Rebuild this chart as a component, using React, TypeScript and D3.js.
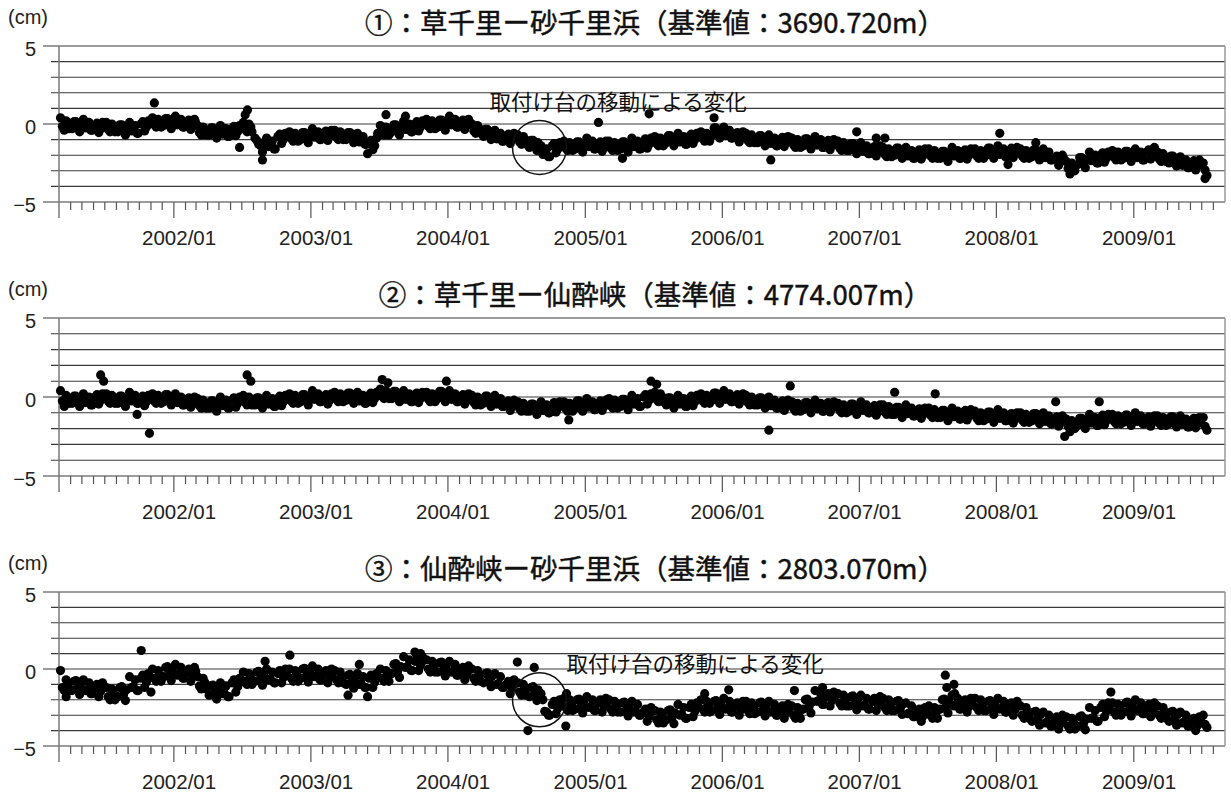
import React from 'react'
import * as d3 from 'd3'

// two interleaved sample sets per panel, 3 readings a month each, starting 2001/03
const daysA = [5, 15, 25]
const daysB = [10, 20, 28]

const titles = [
    '①：草千里ー砂千里浜（基準値：3690.720m）',
    '②：草千里ー仙酔峡（基準値：4774.007m）',
    '③：仙酔峡ー砂千里浜（基準値：2803.070m）'
]

const yearLabels = ['2002/01', '2003/01', '2004/01', '2005/01', '2006/01', '2007/01', '2008/01', '2009/01']
const yTickLabels = [5, 0, -5]
const noteText = '取付け台の移動による変化'

// ① 草千里－砂千里浜 (cm)
const line1a = [
    // 2001 Mar-Dec
    0.4, -0.4, 0.1, -0.3, 0.15, -0.5, 0.3, -0.2, -0.4, -0.1, -0.55, 0.1, 0.1, -0.5, -0.2,
    -0.5, -0.05, -0.7, 0.1, -0.4, -0.6, 0.0, -0.45, 0.2, 0.4, -0.2, 0.1, -0.1, 0.35, -0.3,
    // 2002
    0.5, 0.0, -0.2, 0.1, -0.35, 0.3, -0.1, -0.7, -0.4, -0.7, -0.25, -0.9, -0.1, -0.6, -0.8, -0.3, -0.75, -0.1,
    0.1, -0.5, -0.2, -0.9, -1.3, -1.8, -0.9, -1.4, -1.6, -0.8, -1.25, -0.6, -0.5, -1.1, -0.8, -1.0, -0.55, -1.2,
    // 2003
    -0.3, -0.8, -1.0, -0.6, -1.05, -0.4, -0.4, -1.0, -0.7, -1.0, -0.55, -1.2, -0.6, -1.1, -1.3, -1.2, -1.65, -0.9,
    -0.1, -0.7, -0.4, -0.5, -0.05, -0.7, 0.2, -0.3, -0.5, 0.0, -0.45, 0.2, 0.3, -0.3, 0.0, -0.2, 0.25, -0.4,
    // 2004
    0.5, 0.0, -0.2, 0.1, -0.35, 0.3, 0.0, -0.6, -0.3, -0.8, -0.35, -1.0, -0.4, -0.9, -1.1, -0.8, -1.25, -0.6,
    -0.7, -1.3, -1.0, -1.5, -1.05, -1.7, -1.4, -1.9, -2.1, -1.4, -1.85, -1.2, -1.1, -1.7, -1.4, -1.6, -1.15, -1.8,
    // 2005
    -0.9, -1.4, -1.6, -1.3, -1.75, -1.1, -1.1, -1.7, -1.4, -1.6, -1.15, -1.8, -0.9, -1.4, -1.6, -1.1, -1.55, -0.9,
    -0.8, -1.4, -1.1, -1.2, -0.75, -1.4, -0.6, -1.1, -1.3, -0.8, -1.25, -0.6, -0.5, -1.1, -0.8, -0.7, -0.25, -0.9,
    // 2006
    -0.2, -0.7, -0.9, -0.7, -1.15, -0.5, -0.6, -1.2, -0.9, -1.2, -0.75, -1.4, -0.7, -1.2, -1.4, -1.0, -1.45, -0.8,
    -0.9, -1.5, -1.2, -1.4, -0.95, -1.6, -0.8, -1.3, -1.5, -1.2, -1.65, -1.0, -1.1, -1.7, -1.4, -1.7, -1.25, -1.9,
    // 2007
    -1.2, -1.7, -1.9, -1.6, -2.05, -1.4, -1.5, -2.1, -1.8, -2.0, -1.55, -2.2, -1.5, -2.0, -2.2, -1.8, -2.25, -1.6,
    -1.6, -2.2, -1.9, -2.2, -1.75, -2.4, -1.5, -2.0, -2.2, -1.8, -2.25, -1.6, -1.6, -2.2, -1.9, -2.0, -1.55, -2.2,
    // 2008
    -1.4, -1.9, -2.1, -1.7, -2.15, -1.5, -1.6, -2.2, -1.9, -2.1, -1.65, -2.3, -1.6, -2.1, -2.3, -2.2, -2.65, -2.0,
    -2.4, -3.2, -2.8, -2.6, -2.15, -2.8, -1.8, -2.3, -2.5, -2.0, -2.45, -1.8, -1.7, -2.3, -2.0, -2.2, -1.75, -2.4,
    // 2009 Jan-Jul
    -1.6, -2.1, -2.3, -1.8, -2.25, -1.5, -1.8, -2.4, -2.1, -2.5, -2.05, -2.7, -2.1, -2.6, -2.8, -2.5, -2.95, -2.3,
    -2.5, -3.3
]
const line1b = [
    // 2001 Mar-Dec
    -0.15, 0.2, -0.3, 0.15, -0.2, 0.0, -0.25, 0.1, -0.4, 0.05, -0.3, -0.1, -0.35, 0.0, -0.5,
    -0.05, -0.4, -0.2, -0.45, -0.1, -0.6, 0.15, -0.2, 0.0, -0.05, 0.3, -0.2, 0.35, 0.0, 0.2,
    // 2002
    -0.05, 0.3, -0.2, 0.25, -0.1, 0.1, -0.55, -0.2, -0.7, -0.25, -0.6, -0.4, -0.65, -0.3, -0.8, -0.15, -0.5, -0.3,
    -0.35, 0.0, -0.5, -1.05, -1.4, -1.2, -1.45, -1.1, -1.6, -0.65, -1.0, -0.8, -0.95, -0.6, -1.1, -0.55, -0.9, -0.7,
    // 2003
    -0.85, -0.5, -1.0, -0.45, -0.8, -0.6, -0.85, -0.5, -1.0, -0.55, -0.9, -0.7, -1.15, -0.8, -1.3, -1.05, -1.4, -0.6,
    -0.55, -0.2, -0.7, -0.05, -0.4, -0.2, -0.35, 0.0, -0.5, 0.15, -0.2, 0.0, -0.15, 0.2, -0.3, 0.25, -0.1, 0.1,
    // 2004
    -0.05, 0.3, -0.2, 0.25, -0.1, 0.1, -0.45, -0.1, -0.6, -0.35, -0.7, -0.5, -0.95, -0.6, -1.1, -0.65, -1.0, -0.8,
    -1.15, -0.8, -1.3, -1.05, -1.4, -1.2, -1.95, -1.6, -2.1, -1.25, -1.6, -1.4, -1.55, -1.2, -1.7, -1.15, -1.5, -1.3,
    // 2005
    -1.45, -1.1, -1.6, -1.15, -1.5, -1.3, -1.55, -1.2, -1.7, -1.15, -1.5, -1.3, -1.45, -1.1, -1.6, -0.95, -1.3, -1.1,
    -1.25, -0.9, -1.4, -0.75, -1.1, -0.9, -1.15, -0.8, -1.3, -0.65, -1.0, -0.8, -0.95, -0.6, -1.1, -0.25, -0.6, -0.4,
    // 2006
    -0.75, -0.4, -0.9, -0.55, -0.9, -0.7, -1.05, -0.7, -1.2, -0.75, -1.1, -0.9, -1.25, -0.9, -1.4, -0.85, -1.2, -1.0,
    -1.35, -1.0, -1.5, -0.95, -1.3, -1.1, -1.35, -1.0, -1.5, -1.05, -1.4, -1.2, -1.55, -1.2, -1.7, -1.25, -1.6, -1.4,
    // 2007
    -1.75, -1.4, -1.9, -1.45, -1.8, -1.6, -1.95, -1.6, -2.1, -1.55, -1.9, -1.7, -2.05, -1.7, -2.2, -1.65, -2.0, -1.8,
    -2.05, -1.7, -2.2, -1.75, -2.1, -1.9, -2.05, -1.7, -2.2, -1.65, -2.0, -1.8, -2.05, -1.7, -2.2, -1.55, -1.9, -1.7,
    // 2008
    -1.95, -1.6, -2.1, -1.55, -1.9, -1.7, -2.05, -1.7, -2.2, -1.65, -2.0, -1.8, -2.15, -1.8, -2.3, -2.05, -2.4, -2.2,
    -2.85, -2.5, -3.0, -2.15, -2.5, -2.3, -2.35, -2.0, -2.5, -1.85, -2.2, -2.0, -2.15, -1.8, -2.3, -1.75, -2.1, -1.9,
    // 2009 Jan-Jul
    -2.15, -1.8, -2.3, -1.65, -2.0, -1.8, -2.25, -1.9, -2.4, -2.05, -2.4, -2.2, -2.65, -2.3, -2.8, -2.35, -2.7, -2.5,
    -2.95
]

// ② 草千里－仙酔峡 (cm)
const line2a = [
    // 2001 Mar-Dec
    0.4, -0.6, -0.1, -0.4, 0.05, -0.6, 0.2, -0.3, -0.5, 0.0, -0.45, 0.2, 0.2, -0.4, -0.1,
    -0.4, 0.05, -0.6, 0.3, -0.2, -0.4, -0.1, -0.55, 0.1, 0.2, -0.4, -0.1, -0.3, 0.15, -0.5,
    // 2002
    0.2, -0.3, -0.5, -0.2, -0.65, 0.0, -0.1, -0.7, -0.4, -0.7, -0.25, -0.9, 0.0, -0.5, -0.7, -0.2, -0.65, 0.0,
    0.1, -0.5, -0.2, -0.5, -0.05, -0.7, 0.1, -0.4, -0.6, -0.1, -0.55, 0.1, 0.2, -0.4, -0.1, -0.3, 0.15, -0.5,
    // 2003
    0.4, -0.1, -0.3, 0.0, -0.45, 0.2, 0.3, -0.3, 0.0, -0.2, 0.25, -0.4, 0.3, -0.2, -0.4, 0.1, -0.35, 0.3,
    0.5, -0.1, 0.2, -0.1, 0.35, -0.3, 0.4, -0.1, -0.3, 0.1, -0.35, 0.3, 0.3, -0.3, 0.0, -0.1, 0.35, -0.3,
    // 2004
    0.4, -0.1, -0.3, 0.0, -0.45, 0.2, 0.1, -0.5, -0.2, -0.4, 0.05, -0.6, 0.1, -0.4, -0.6, -0.4, -0.85, -0.2,
    -0.3, -0.9, -0.6, -0.9, -0.45, -1.1, -0.3, -0.8, -1.0, -0.5, -0.95, -0.3, -0.3, -0.9, -0.6, -0.7, -0.25, -0.9,
    // 2005
    -0.1, -0.6, -0.8, -0.4, -0.85, -0.2, -0.1, -0.7, -0.4, -0.6, -0.15, -0.8, 0.1, -0.4, -0.6, 0.0, -0.45, 0.2,
    0.3, -0.3, 0.0, -0.5, -0.05, -0.7, 0.1, -0.4, -0.6, -0.1, -0.55, 0.1, 0.2, -0.4, -0.1, -0.2, 0.25, -0.4,
    // 2006
    0.4, -0.1, -0.3, 0.0, -0.45, 0.2, 0.1, -0.5, -0.2, -0.5, -0.05, -0.7, 0.0, -0.5, -0.7, -0.4, -0.85, -0.2,
    -0.3, -0.9, -0.6, -0.8, -0.35, -1.0, -0.2, -0.7, -0.9, -0.5, -0.95, -0.3, -0.4, -1.0, -0.7, -0.9, -0.45, -1.1,
    // 2007
    -0.3, -0.8, -1.0, -0.7, -1.15, -0.5, -0.5, -1.1, -0.8, -1.1, -0.65, -1.3, -0.5, -1.0, -1.2, -0.9, -1.35, -0.7,
    -0.7, -1.3, -1.0, -1.3, -0.85, -1.5, -0.7, -1.2, -1.4, -1.0, -1.45, -0.8, -0.9, -1.5, -1.2, -1.4, -0.95, -1.6,
    // 2008
    -0.8, -1.3, -1.5, -1.2, -1.65, -1.0, -1.0, -1.6, -1.3, -1.5, -1.05, -1.7, -1.0, -1.5, -1.7, -1.4, -1.85, -1.2,
    -1.4, -2.2, -1.7, -1.8, -1.35, -2.0, -1.1, -1.6, -1.8, -1.3, -1.75, -1.1, -1.1, -1.7, -1.4, -1.6, -1.15, -1.8,
    // 2009 Jan-Jul
    -1.0, -1.5, -1.7, -1.4, -1.85, -1.2, -1.2, -1.8, -1.5, -1.7, -1.25, -1.9, -1.2, -1.7, -1.9, -1.5, -1.95, -1.3,
    -1.3, -2.1
]
const line2b = [
    // 2001 Mar-Dec
    -0.25, 0.1, -0.4, 0.05, -0.3, -0.1, -0.35, 0.0, -0.5, 0.15, -0.2, 0.0, -0.25, 0.1, -0.4,
    0.05, -0.3, -0.1, -0.25, 0.1, -0.4, 0.05, -0.3, -0.1, -0.25, 0.1, -0.4, 0.15, -0.2, 0.0,
    // 2002
    -0.35, 0.0, -0.5, -0.05, -0.4, -0.2, -0.55, -0.2, -0.7, -0.25, -0.6, -0.4, -0.55, -0.2, -0.7, -0.05, -0.4, -0.2,
    -0.35, 0.0, -0.5, -0.05, -0.4, -0.2, -0.45, -0.1, -0.6, 0.05, -0.3, -0.1, -0.25, 0.1, -0.4, 0.15, -0.2, 0.0,
    // 2003
    -0.15, 0.2, -0.3, 0.15, -0.2, 0.0, -0.15, 0.2, -0.3, 0.25, -0.1, 0.1, -0.25, 0.1, -0.4, 0.25, -0.1, 0.1,
    0.05, 0.4, -0.1, 0.35, 0.0, 0.2, -0.15, 0.2, -0.3, 0.25, -0.1, 0.1, -0.15, 0.2, -0.3, 0.35, 0.0, 0.2,
    // 2004
    -0.15, 0.2, -0.3, 0.15, -0.2, 0.0, -0.35, 0.0, -0.5, 0.05, -0.3, -0.1, -0.45, -0.1, -0.6, -0.25, -0.6, -0.4,
    -0.75, -0.4, -0.9, -0.45, -0.8, -0.6, -0.85, -0.5, -1.0, -0.35, -0.7, -0.5, -0.75, -0.4, -0.9, -0.25, -0.6, -0.4,
    // 2005
    -0.65, -0.3, -0.8, -0.25, -0.6, -0.4, -0.55, -0.2, -0.7, -0.15, -0.5, -0.3, -0.45, -0.1, -0.6, 0.15, -0.2, 0.0,
    -0.15, 0.2, -0.3, -0.05, -0.4, -0.2, -0.45, -0.1, -0.6, 0.05, -0.3, -0.1, -0.25, 0.1, -0.4, 0.25, -0.1, 0.1,
    // 2006
    -0.15, 0.2, -0.3, 0.15, -0.2, 0.0, -0.35, 0.0, -0.5, -0.05, -0.4, -0.2, -0.55, -0.2, -0.7, -0.25, -0.6, -0.4,
    -0.75, -0.4, -0.9, -0.35, -0.7, -0.5, -0.75, -0.4, -0.9, -0.35, -0.7, -0.5, -0.85, -0.5, -1.0, -0.45, -0.8, -0.6,
    // 2007
    -0.85, -0.5, -1.0, -0.55, -0.9, -0.7, -0.95, -0.6, -1.1, -0.65, -1.0, -0.8, -1.05, -0.7, -1.2, -0.75, -1.1, -0.9,
    -1.15, -0.8, -1.3, -0.85, -1.2, -1.0, -1.25, -0.9, -1.4, -0.85, -1.2, -1.0, -1.35, -1.0, -1.5, -0.95, -1.3, -1.1,
    // 2008
    -1.35, -1.0, -1.5, -1.05, -1.4, -1.2, -1.45, -1.1, -1.6, -1.05, -1.4, -1.2, -1.55, -1.2, -1.7, -1.25, -1.6, -1.4,
    -1.85, -1.5, -2.0, -1.35, -1.7, -1.5, -1.65, -1.3, -1.8, -1.15, -1.5, -1.3, -1.55, -1.2, -1.7, -1.15, -1.5, -1.3,
    // 2009 Jan-Jul
    -1.55, -1.2, -1.7, -1.25, -1.6, -1.4, -1.65, -1.3, -1.8, -1.25, -1.6, -1.4, -1.75, -1.4, -1.9, -1.35, -1.7, -1.5,
    -1.85
]

// ③ 仙酔峡－砂千里浜 (cm)
const line3a = [
    // 2001 Mar-Dec
    -0.1, -1.4, -1.0, -1.4, -0.75, -1.65, -0.7, -1.35, -1.6, -1.2, -1.8, -0.9, -1.2, -2.0, -1.6,
    -1.8, -1.15, -2.05, -0.5, -1.15, -1.4, -0.6, -1.2, -0.3, 0.0, -0.8, -0.4, -0.5, 0.15, -0.75,
    // 2002
    0.3, -0.35, -0.6, -0.2, -0.8, 0.1, -0.5, -1.3, -0.9, -1.7, -1.05, -1.95, -0.9, -1.55, -1.8, -0.9, -1.5, -0.6,
    -0.2, -1.0, -0.6, -0.8, -0.15, -1.05, 0.0, -0.65, -0.9, -0.3, -0.9, 0.0, 0.0, -0.8, -0.4, -0.6, 0.05, -0.85,
    // 2003
    0.2, -0.45, -0.7, -0.3, -0.9, 0.0, -0.1, -0.9, -0.5, -1.0, -0.35, -1.25, -0.3, -0.95, -1.2, -0.6, -1.2, -0.3,
    0.0, -0.8, -0.4, -0.3, 0.35, -0.55, 0.8, 0.15, -0.1, 0.5, -0.1, 0.8, 0.6, -0.2, 0.2, -0.2, 0.45, -0.45,
    // 2004
    0.5, -0.15, -0.4, -0.1, -0.7, 0.2, 0.0, -0.8, -0.4, -0.9, -0.25, -1.15, -0.3, -0.95, -1.2, -1.0, -1.6, -0.7,
    -0.9, -1.7, -1.3, -1.8, -1.15, -2.05, -1.6, -2.75, -3.0, -2.3, -2.9, -2.0, -1.9, -2.7, -2.3, -2.6, -1.95, -2.85,
    // 2005
    -1.8, -2.45, -2.7, -2.2, -2.8, -1.9, -2.0, -2.8, -2.4, -2.8, -2.15, -3.05, -2.1, -2.75, -3.0, -2.8, -3.4, -2.5,
    -2.7, -3.5, -3.1, -3.3, -2.65, -3.55, -2.3, -2.95, -3.2, -2.5, -3.1, -2.2, -2.0, -2.8, -2.4, -2.7, -2.05, -2.95,
    // 2006
    -1.9, -2.55, -2.8, -2.4, -3.0, -2.1, -2.1, -2.9, -2.5, -2.8, -2.15, -3.05, -2.1, -2.75, -3.0, -2.6, -3.2, -2.3,
    -2.4, -3.2, -2.8, -2.6, -1.95, -2.85, -1.4, -2.05, -2.3, -1.8, -2.4, -1.5, -1.6, -2.4, -2.0, -2.4, -1.75, -2.65,
    // 2007
    -1.7, -2.35, -2.6, -2.1, -2.7, -1.8, -1.9, -2.7, -2.3, -2.7, -2.05, -2.95, -2.2, -2.85, -3.1, -2.8, -3.4, -2.5,
    -2.4, -3.2, -2.8, -2.6, -1.95, -2.85, -1.7, -2.35, -2.6, -2.2, -2.8, -1.9, -1.9, -2.7, -2.3, -2.7, -2.05, -2.95,
    // 2008
    -1.9, -2.55, -2.8, -2.4, -3.0, -2.1, -2.4, -3.2, -2.8, -3.4, -2.75, -3.65, -2.8, -3.45, -3.7, -3.3, -3.9, -3.0,
    -3.1, -3.9, -3.5, -3.7, -3.05, -3.95, -2.5, -3.15, -3.4, -2.5, -3.1, -2.2, -2.2, -3.0, -2.6, -2.8, -2.15, -3.05,
    // 2009 Jan-Jul
    -2.0, -2.65, -2.9, -2.5, -3.1, -2.2, -2.4, -3.2, -2.8, -3.4, -2.75, -3.65, -2.8, -3.45, -3.7, -3.4, -4.0, -3.1,
    -3.0, -3.8
]
const line3b = [
    // 2001 Mar-Dec
    -1.2, -0.7, -1.4, -0.8, -1.25, -0.95, -1.4, -0.9, -1.6, -1.0, -1.45, -1.15, -1.8, -1.3, -2.0,
    -1.2, -1.65, -1.35, -1.2, -0.7, -1.4, -0.4, -0.85, -0.55, -0.6, -0.1, -0.8, 0.1, -0.35, -0.05,
    // 2002
    -0.4, 0.1, -0.6, 0.0, -0.45, -0.15, -1.1, -0.6, -1.3, -1.1, -1.55, -1.25, -1.6, -1.1, -1.8, -0.7, -1.15, -0.85,
    -0.8, -0.3, -1.0, -0.2, -0.65, -0.35, -0.7, -0.2, -0.9, -0.1, -0.55, -0.25, -0.6, -0.1, -0.8, 0.0, -0.45, -0.15,
    // 2003
    -0.5, 0.0, -0.7, -0.1, -0.55, -0.25, -0.7, -0.2, -0.9, -0.4, -0.85, -0.55, -1.0, -0.5, -1.2, -0.4, -0.85, -0.55,
    -0.6, -0.1, -0.8, 0.3, -0.15, 0.15, 0.1, 0.6, -0.1, 0.7, 0.25, 0.55, 0.0, 0.5, -0.2, 0.4, -0.05, 0.25,
    // 2004
    -0.2, 0.3, -0.4, 0.1, -0.35, -0.05, -0.6, -0.1, -0.8, -0.3, -0.75, -0.45, -1.0, -0.5, -1.2, -0.8, -1.25, -0.95,
    -1.5, -1.0, -1.7, -1.2, -1.65, -1.35, -2.0, -2.8, -3.0, -2.1, -2.55, -2.25, -2.5, -2.0, -2.7, -2.0, -2.45, -2.15,
    // 2005
    -2.5, -2.0, -2.7, -2.0, -2.45, -2.15, -2.6, -2.1, -2.8, -2.2, -2.65, -2.35, -2.8, -2.3, -3.0, -2.6, -3.05, -2.75,
    -3.3, -2.8, -3.5, -2.7, -3.15, -2.85, -3.0, -2.5, -3.2, -2.3, -2.75, -2.45, -2.6, -2.1, -2.8, -2.1, -2.55, -2.25,
    // 2006
    -2.6, -2.1, -2.8, -2.2, -2.65, -2.35, -2.7, -2.2, -2.9, -2.2, -2.65, -2.35, -2.8, -2.3, -3.0, -2.4, -2.85, -2.55,
    -3.0, -2.5, -3.2, -2.0, -2.45, -2.15, -2.1, -1.6, -2.3, -1.6, -2.05, -1.75, -2.2, -1.7, -2.4, -1.8, -2.25, -1.95,
    // 2007
    -2.4, -1.9, -2.6, -1.9, -2.35, -2.05, -2.5, -2.0, -2.7, -2.1, -2.55, -2.25, -2.9, -2.4, -3.1, -2.6, -3.05, -2.75,
    -3.0, -2.5, -3.2, -2.0, -2.45, -2.15, -2.4, -1.9, -2.6, -2.0, -2.45, -2.15, -2.5, -2.0, -2.7, -2.1, -2.55, -2.25,
    // 2008
    -2.6, -2.1, -2.8, -2.2, -2.65, -2.35, -3.0, -2.5, -3.2, -2.8, -3.25, -2.95, -3.5, -3.0, -3.7, -3.1, -3.55, -3.25,
    -3.7, -3.2, -3.9, -3.1, -3.55, -3.25, -3.2, -2.7, -3.4, -2.3, -2.75, -2.45, -2.8, -2.3, -3.0, -2.2, -2.65, -2.35,
    // 2009 Jan-Jul
    -2.7, -2.2, -2.9, -2.3, -2.75, -2.45, -3.0, -2.5, -3.2, -2.8, -3.25, -2.95, -3.5, -3.0, -3.7, -3.2, -3.65, -3.35,
    -3.6
]

// isolated points off the main band: [date, cm]
const extra1: [string, number][] = [
    ['2001-11-10', 1.35], ['2002-06-25', -1.5], ['2002-07-10', 0.6], ['2002-07-16', 0.9], ['2002-08-25', -2.3],
    ['2003-06-01', -1.9], ['2003-07-20', 0.6], ['2003-09-10', 0.5], ['2005-02-05', 0.1], ['2005-04-10', -2.2],
    ['2005-06-20', 0.65], ['2005-12-10', 0.4], ['2006-05-10', -2.3], ['2006-12-25', -0.5], ['2007-02-15', -0.9],
    ['2007-03-10', -0.9], ['2008-01-10', -0.6], ['2008-02-01', -2.6], ['2008-04-15', -1.2], ['2009-07-10', -3.5]
]
const extra2: [string, number][] = [
    ['2001-06-20', 1.4], ['2001-06-28', 1.0], ['2001-09-25', -1.1], ['2001-10-28', -2.3], ['2002-07-15', 1.4],
    ['2002-07-25', 1.0], ['2003-07-10', 1.1], ['2003-07-25', 0.9], ['2003-12-28', 1.0], ['2004-11-18', -1.45],
    ['2005-06-25', 1.0], ['2005-07-10', 0.8], ['2006-05-05', -2.1], ['2006-07-01', 0.7], ['2007-04-05', 0.3],
    ['2007-07-22', 0.2], ['2008-06-07', -0.3], ['2008-07-01', -2.5], ['2008-10-01', -0.3]
]
const extra3: [string, number][] = [
    ['2001-03-20', -1.8], ['2001-10-06', 1.2], ['2001-11-01', -1.5], ['2002-09-01', 0.5], ['2002-11-06', 0.9],
    ['2003-04-10', -1.7], ['2003-05-10', 0.3], ['2003-06-01', -1.8], ['2003-10-05', 1.1], ['2003-10-20', 1.0],
    ['2004-07-04', 0.45], ['2004-08-01', -4.0], ['2004-08-18', 0.1], ['2004-11-10', -3.7], ['2004-11-12', -1.6],
    ['2005-11-15', -1.6], ['2006-01-18', -1.35], ['2006-07-12', -1.4], ['2006-09-25', -1.2], ['2007-08-18', -0.4],
    ['2007-08-22', -1.2], ['2007-09-10', -1.0], ['2007-09-12', -1.6], ['2008-11-01', -1.5]
]

// circled annotation: [date, cm] centre, or null
const notes: ([string, number] | null)[] = [['2004-09-01', -1.5], null, ['2004-09-01', -2.0]]

const seriesA = [line1a, line2a, line3a]
const seriesB = [line1b, line2b, line3b]
const extraList = [extra1, extra2, extra3]

const W = 1231
const H = 794
const left = 59
const right = 1225
const panelTop = [46, 318, 592]
const panelBottom = [202, 476, 746]
const labelFont = '"Liberation Sans", Arial, sans-serif'
const cjkFont = '"Noto Sans CJK JP", sans-serif'

const sampleDate = (days: number[], i: number) => new Date(2001, 2 + Math.floor(i / 3), days[i % 3])
const parse = d3.timeParse('%Y-%m-%d')

const x = d3.scaleTime().domain([new Date(2001, 2, 1), new Date(2009, 8, 1)]).range([left, right])
const months = d3.timeMonth.range(new Date(2001, 3, 1), new Date(2009, 8, 1))
const januaries = months.filter((m) => m.getMonth() === 0)

const Panel: React.FC<{ idx: number }> = ({ idx }) => {
    const top = panelTop[idx]
    const bottom = panelBottom[idx]
    const y = d3.scaleLinear().domain([-5, 5]).range([bottom, top])
    const grid = d3.range(-5, 6)
    const note = notes[idx]
    const pts = [
        ...seriesA[idx].map((v, i) => ({ d: sampleDate(daysA, i), v })),
        ...seriesB[idx].map((v, i) => ({ d: sampleDate(daysB, i), v })),
        ...extraList[idx].map(([d, v]) => ({ d: parse(d) as Date, v }))
    ]

    return (
        <g>
            <text x={655} y={top - 25} textAnchor="middle" dominantBaseline="central"
                fontFamily={cjkFont} fontSize={27.5} fill="#111" stroke="#111" strokeWidth={0.45}>
                {titles[idx]}
            </text>
            <text x={8} y={top - 22} fontFamily={labelFont} fontSize={20} fill="#222">(cm)</text>

            {grid.map((g) => (
                <line key={g} x1={g % 5 === 0 ? 43 : 51} x2={right} y1={y(g)} y2={y(g)}
                    stroke="#3a3a3a" strokeWidth={1.1} />
            ))}
            <line x1={left} x2={left} y1={top} y2={bottom + 16} stroke="#777" strokeWidth={1.5} />
            <line x1={right} x2={right} y1={top} y2={bottom} stroke="#999" strokeWidth={1.5} />

            {months.map((m, i) => (
                <line key={i} x1={x(m)} x2={x(m)} y1={bottom}
                    y2={bottom + (m.getMonth() === 0 ? 16 : 8)} stroke="#555" strokeWidth={1.2} />
            ))}
            {januaries.map((m, i) => (
                <text key={i} x={x(d3.timeDay.offset(m, 14))} y={bottom + 43} textAnchor="middle"
                    fontFamily={labelFont} fontSize={20.5} fill="#222">
                    {yearLabels[i]}
                </text>
            ))}
            {yTickLabels.map((t) => (
                <text key={t} x={36} y={y(t) + 10} textAnchor="end" fontFamily={labelFont}
                    fontSize={20} fill="#222">
                    {t < 0 ? '\u2212' + Math.abs(t) : String(t)}
                </text>
            ))}

            {pts.map((p, i) => (
                <circle key={i} cx={x(p.d)} cy={y(p.v)} r={4.6} fill="#000" />
            ))}

            {note && (
                <g>
                    <circle cx={x(parse(note[0]) as Date)} cy={y(note[1])} r={27} fill="none"
                        stroke="#111" strokeWidth={1.5} />
                    <text
                        x={idx === 0 ? x(parse(note[0]) as Date) - 50 : x(parse(note[0]) as Date) + 27}
                        y={idx === 0 ? y(1.5) : y(0.45)} dominantBaseline="central"
                        fontFamily={cjkFont} fontSize={21.5} fill="#111">
                        {noteText}
                    </text>
                </g>
            )}
        </g>
    )
}

export default function App() {
    return (
        <svg width={W} height={H} style={{ position: 'absolute', left: 0, top: 0, background: '#fff' }}>
            <rect width={W} height={H} fill="#fff" />
            {[0, 1, 2].map((i) => (
                <Panel key={i} idx={i} />
            ))}
        </svg>
    )
}
